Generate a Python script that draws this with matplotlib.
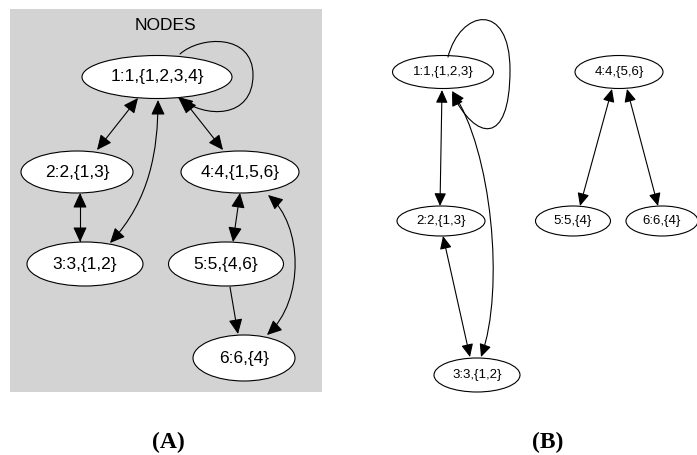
import matplotlib
matplotlib.use("Agg")
import matplotlib.pyplot as plt
from matplotlib.patches import Ellipse, Rectangle, FancyArrowPatch, ArrowStyle
from matplotlib.path import Path

# node data: label, centre (px), size (px)
nodeLabelsA = ["1:1,{1,2,3,4}", "2:2,{1,3}", "4:4,{1,5,6}", "3:3,{1,2}", "5:5,{4,6}", "6:6,{4}"]
nodeXA = [157, 77, 240, 85, 226, 244]
nodeYA = [77, 172, 172, 264, 264, 358]
nodeWA = [150, 112, 118, 116, 115, 102]
nodeHA = [43, 42, 42, 44, 44, 46]

nodeLabelsB = ["1:1,{1,2,3}", "4:4,{5,6}", "2:2,{1,3}", "5:5,{4}", "6:6,{4}", "3:3,{1,2}"]
nodeXB = [443, 619, 441, 573, 662, 477]
nodeYB = [72, 72, 221, 221, 221, 375]
nodeWB = [101, 88, 88, 75, 72, 86]
nodeHB = [33, 33, 30, 30, 30, 34]

# edges: style, points (straight = 2 pts, curve = cubic bezier chain)
edgesA = [
    ("<|-|>", [(138, 98), (97, 150)]),
    ("<|-|>", [(182, 98), (223, 150)]),
    ("<|-|>", [(80, 193), (80, 242)]),
    ("<|-|>", [(240, 193), (233, 242)]),
    ("-|>", [(230, 287), (238, 334)]),
    ("<|-|>", [(158, 100), (158, 150), (150, 200), (110, 243)]),
    ("<|-|>", [(268, 195), (303, 225), (305, 300), (267, 335)]),
    ("-|>", [(180, 54), (200, 36), (253, 33), (253, 75), (253, 119), (205, 119), (178, 97)]),
]
edgesB = [
    ("<|-|>", [(442, 90), (440, 206)]),
    ("<|-|>", [(443, 236), (470, 357)]),
    ("<|-|>", [(612, 89), (580, 206)]),
    ("<|-|>", [(627, 89), (658, 206)]),
    ("<|-|>", [(452, 91), (492, 150), (505, 290), (481, 357)]),
    ("-|>", [(448, 57), (460, 10), (510, 0), (510, 70), (510, 148), (475, 140), (452, 93)]),
]

fig = plt.figure(figsize=(6.97, 4.55), dpi=100)
ax = fig.add_axes([0, 0, 1, 1])
ax.set_xlim(0, 697)
ax.set_ylim(455, 0)
ax.axis("off")

ax.add_patch(Rectangle((10, 9), 312, 383, facecolor="#d3d3d3", edgecolor="none"))
ax.text(165, 25, "NODES", ha="center", va="center", fontsize=12.5, family="Liberation Sans")


def drawNodes(labels, xs, ys, ws, hs, fs):
    for lab, x, y, w, h in zip(labels, xs, ys, ws, hs):
        ax.add_patch(Ellipse((x, y), w, h, facecolor="white", edgecolor="black", lw=0.8, zorder=2))
        ax.text(x, y, lab, ha="center", va="center", fontsize=fs, family="Liberation Sans", zorder=3)


def drawEdges(edges, scale):
    for style, pts in edges:
        if len(pts) == 2:
            path = Path(pts, [Path.MOVETO, Path.LINETO])
        else:
            path = Path(pts, [Path.MOVETO] + [Path.CURVE4] * (len(pts) - 1))
        arrow = ArrowStyle(style, head_length=0.65, head_width=0.3)
        ax.add_patch(FancyArrowPatch(path=path, arrowstyle=arrow, mutation_scale=scale,
                                     color="black", lw=0.8, shrinkA=0, shrinkB=0, zorder=4))


drawNodes(nodeLabelsA, nodeXA, nodeYA, nodeWA, nodeHA, 12.5)
drawNodes(nodeLabelsB, nodeXB, nodeYB, nodeWB, nodeHB, 9.5)
drawEdges(edgesA, 14)
drawEdges(edgesB, 12)

ax.text(168, 442, "(A)", ha="center", va="center", fontsize=17, fontweight="bold", family="Liberation Serif")
ax.text(548, 442, "(B)", ha="center", va="center", fontsize=17, fontweight="bold", family="Liberation Serif")

fig.savefig("out.png", dpi=100)
